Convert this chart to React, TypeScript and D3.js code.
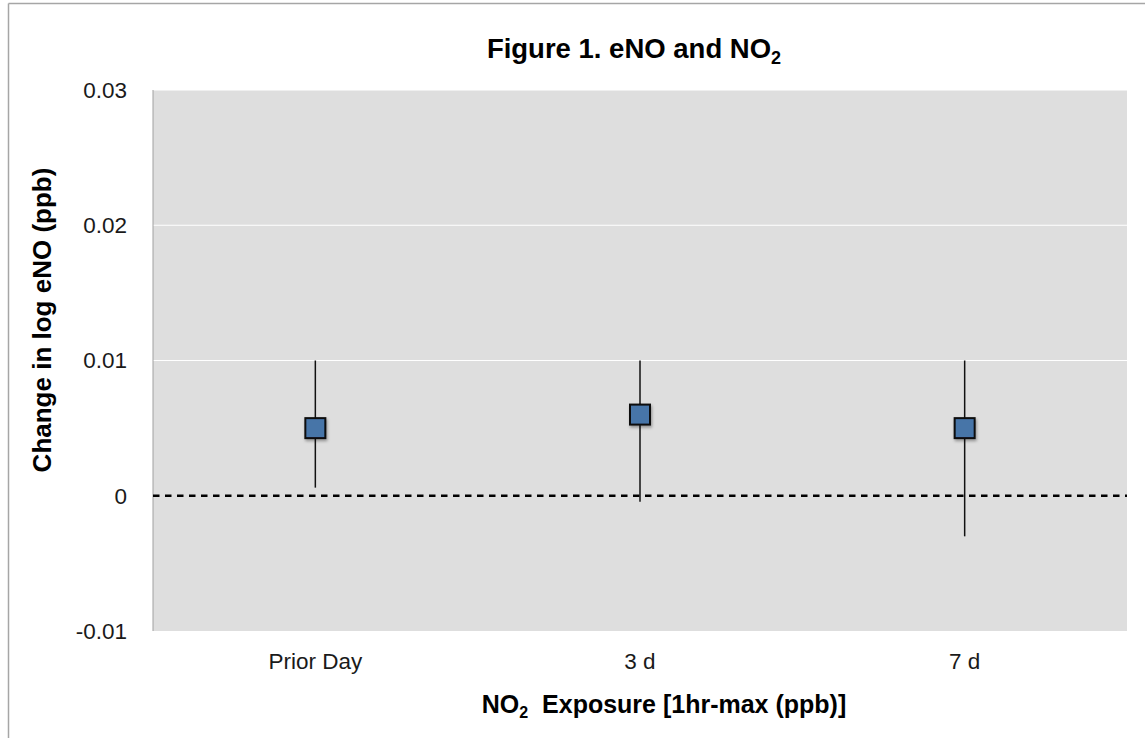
import React from "react";
import * as d3 from "d3";

const categories = ["Prior Day", "3 d", "7 d"];
const estimates = [0.005, 0.006, 0.005];
const lowerCI = [0.0006, -0.00045, -0.003];
const upperCI = [0.01, 0.01, 0.01];
const yTicks = [-0.01, 0, 0.01, 0.02, 0.03];
const yTickLabels = ["-0.01", "0", "0.01", "0.02", "0.03"];

const W = 1145;
const H = 738;
const plot = { left: 153, top: 90, right: 1127, bottom: 631 };

export default function App() {
  const x = d3.scaleBand<string>().domain(categories).range([plot.left, plot.right]);
  const y = d3.scaleLinear().domain([-0.01, 0.03]).range([plot.bottom, plot.top]);
  const cx = (c: string) => (x(c) as number) + x.bandwidth() / 2;
  const font = "'Liberation Sans', Arial, sans-serif";
  const ms = 20;

  return (
    <svg
      width={W}
      height={H}
      style={{ position: "absolute", left: 0, top: 0, background: "#fff" }}
      fontFamily={font}
    >
      <defs>
        <filter id="shadow" x="-50%" y="-50%" width="200%" height="200%">
          <feDropShadow dx="1" dy="2" stdDeviation="1.5" floodColor="#000" floodOpacity="0.35" />
        </filter>
      </defs>
      {/* outer frame */}
      <line x1={8.5} y1={3.5} x2={W} y2={3.5} stroke="#a6a6a6" strokeWidth={1.5} />
      <line x1={8.5} y1={3.5} x2={8.5} y2={H} stroke="#a6a6a6" strokeWidth={1.5} />

      {/* plot area */}
      <rect
        x={plot.left}
        y={plot.top}
        width={plot.right - plot.left}
        height={plot.bottom - plot.top}
        fill="#dedede"
      />
      {/* gridlines */}
      {yTicks
        .filter((t) => t > 0)
        .map((t) => (
          <line
            key={"g" + t}
            x1={plot.left}
            x2={plot.right}
            y1={y(t)}
            y2={y(t)}
            stroke="#ffffff"
            strokeWidth={1}
          />
        ))}
      {/* left axis line */}
      <line x1={plot.left} x2={plot.left} y1={plot.top} y2={plot.bottom} stroke="#a0a0a0" strokeWidth={1} />

      {/* y tick labels */}
      {yTicks.map((t, i) => (
        <text
          key={"t" + t}
          x={127}
          y={y(t)}
          dy="0.35em"
          textAnchor="end"
          fontSize={22.5}
          fill="#1a1a1a"
        >
          {yTickLabels[i]}
        </text>
      ))}

      {/* zero dashed line */}
      <line
        x1={plot.left}
        x2={plot.right}
        y1={y(0)}
        y2={y(0)}
        stroke="#000"
        strokeWidth={2.5}
        strokeDasharray="6.5 5.5"
      />

      {/* error bars and markers */}
      {categories.map((c, i) => (
        <g key={c}>
          <line
            x1={cx(c)}
            x2={cx(c)}
            y1={y(upperCI[i])}
            y2={y(lowerCI[i])}
            stroke="#111"
            strokeWidth={1.5}
          />
          <rect
            x={cx(c) - ms / 2}
            y={y(estimates[i]) - ms / 2}
            width={ms}
            height={ms}
            fill="#4674a8"
            stroke="#0d0d0d"
            strokeWidth={2}
            filter="url(#shadow)"
          />
        </g>
      ))}

      {/* x tick labels */}
      {categories.map((c) => (
        <text key={"x" + c} x={cx(c)} y={669} textAnchor="middle" fontSize={22.5} fill="#1a1a1a">
          {c}
        </text>
      ))}

      {/* title */}
      <text x={634} y={58} textAnchor="middle" fontSize={27.5} fontWeight="bold" fill="#000">
        Figure 1. eNO and NO
        <tspan fontSize={18} dy={6}>2</tspan>
      </text>

      {/* x axis title */}
      <text
        x={664}
        y={713}
        textAnchor="middle"
        fontSize={25}
        fontWeight="bold"
        fill="#000"
        style={{ whiteSpace: "pre" }}
      >
        NO
        <tspan fontSize={16} dy={5}>2</tspan>
        <tspan dy={-5}>{"  Exposure [1hr-max (ppb)]"}</tspan>
      </text>

      {/* y axis title */}
      <text
        transform={`translate(51, ${320}) rotate(-90)`}
        textAnchor="middle"
        fontSize={26}
        fontWeight="bold"
        fill="#000"
      >
        Change in log eNO (ppb)
      </text>
    </svg>
  );
}
